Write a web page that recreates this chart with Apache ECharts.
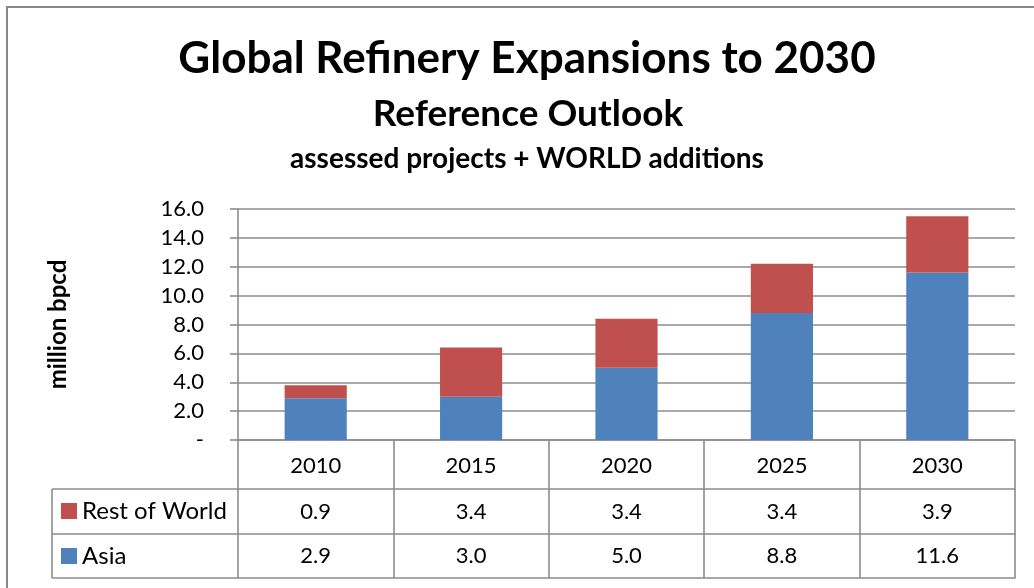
<!DOCTYPE html>
<html>
<head>
<meta charset="utf-8">
<script src="https://cdn.jsdelivr.net/npm/echarts@6/dist/echarts.min.js"></script>
<style>
  html, body { margin: 0; padding: 0; background: #fff; }
  #chart { width: 1034px; height: 588px; }
</style>
</head>
<body>
<div id="chart"></div>
<script>
// values
const years = ['2010', '2015', '2020', '2025', '2030'];
const asia = [2.9, 3.0, 5.0, 8.8, 11.6];
const restOfWorld = [0.9, 3.4, 3.4, 3.4, 3.9];
const seriesNames = ['Rest of World', 'Asia'];

const FONT = 'Lato';
const GRAY = '#8c8c8c';
const BLUE = '#4f81bd';
const RED = '#c0504d';

// layout of the plot area / data table
const gridLeft = 238, gridTop = 209, gridBottomY = 440, gridRightX = 1015;
const rowH = [49, 45, 44];         // header row, rest row, asia row
const tableLeft = 52;

const chart = echarts.init(document.getElementById('chart'));

const fmt = v => v.toFixed(1);

const tableAxis = (offset, values, margin) => ({
  type: 'category',
  data: years,
  position: 'bottom',
  offset: offset,
  boundaryGap: true,
  axisLine: { show: true, lineStyle: { color: GRAY, width: 1.6 } },
  axisTick: { show: false },
  splitLine: { show: false },
  axisLabel: values ? {
    show: true,
    interval: 0,
    margin: margin,
    color: '#000',
    fontFamily: FONT,
    fontSize: 22,
    formatter: (v, i) => fmt(values[i])
  } : { show: false }
});

const off1 = rowH[0], off2 = rowH[0] + rowH[1], off3 = rowH[0] + rowH[1] + rowH[2];
const lineY = [gridBottomY + off1, gridBottomY + off2, gridBottomY + off3];

const option = {
  animation: false,
  backgroundColor: '#fff',
  textStyle: { fontFamily: FONT },
  grid: {
    left: gridLeft,
    top: gridTop,
    right: 1034 - gridRightX,
    bottom: 588 - gridBottomY,
    containLabel: false
  },
  legend: {
    data: seriesNames,
    orient: 'vertical',
    left: 61,
    top: 499,
    padding: 0,
    itemGap: 21,
    itemWidth: 16,
    itemHeight: 16,
    icon: 'rect',
    selectedMode: false,
    textStyle: { color: '#000', fontFamily: FONT, fontSize: 24 }
  },
  xAxis: [
    {
      type: 'category',
      data: years,
      position: 'bottom',
      boundaryGap: true,
      axisLine: { show: true, lineStyle: { color: GRAY, width: 1.6 } },
      axisTick: { show: true, length: off3, lineStyle: { color: GRAY, width: 1.6 } },
      axisLabel: { interval: 0, margin: 15, color: '#000', fontFamily: FONT, fontSize: 22 }
    },
    tableAxis(off1, restOfWorld, 12),
    tableAxis(off2, asia, 11),
    tableAxis(off3, null, 0)
  ],
  yAxis: {
    type: 'value',
    min: 0,
    max: 16,
    interval: 2,
    name: 'million bpcd',
    nameLocation: 'middle',
    nameRotate: 90,
    nameGap: 168,
    nameTextStyle: { color: '#000', fontFamily: FONT, fontSize: 24, fontWeight: 'bold' },
    axisLine: { show: true, lineStyle: { color: GRAY, width: 1.6 } },
    axisTick: { show: true, length: 8, lineStyle: { color: GRAY, width: 1.6 } },
    splitLine: { show: true, lineStyle: { color: GRAY, width: 1.6 } },
    axisLabel: {
      margin: 34,
      color: '#000',
      fontFamily: FONT,
      fontSize: 22,
      formatter: v => (v === 0 ? '-' : fmt(v))
    }
  },
  series: [
    {
      name: 'Asia',
      type: 'bar',
      stack: 'total',
      barWidth: '40%',
      data: asia,
      itemStyle: { color: BLUE }
    },
    {
      name: 'Rest of World',
      type: 'bar',
      stack: 'total',
      barWidth: '40%',
      data: restOfWorld,
      itemStyle: { color: RED }
    }
  ],
  graphic: [
    // outer chart border
    { type: 'rect', shape: { x: 7, y: 7, width: 1100, height: 700 },
      style: { fill: 'none', stroke: '#888', lineWidth: 2 }, silent: true },
    // titles
    { type: 'text', x: 527, y: 59, style: { text: 'Global Refinery Expansions to 2030',
      font: 'bold 44px ' + FONT, fill: '#000', textAlign: 'center', textVerticalAlign: 'middle' } },
    { type: 'text', x: 528, y: 114, style: { text: 'Reference Outlook',
      font: 'bold 37px ' + FONT, fill: '#000', textAlign: 'center', textVerticalAlign: 'middle' } },
    { type: 'text', x: 527, y: 159, style: { text: 'assessed projects + WORLD additions',
      font: 'bold 28px ' + FONT, fill: '#000', textAlign: 'center', textVerticalAlign: 'middle' } },
    // left part of the data table (series key column)
    ...lineY.map(y => ({ type: 'line', silent: true,
      shape: { x1: tableLeft, y1: y, x2: gridLeft, y2: y },
      style: { stroke: GRAY, lineWidth: 1.6 } })),
    { type: 'line', silent: true,
      shape: { x1: tableLeft, y1: lineY[0], x2: tableLeft, y2: lineY[2] },
      style: { stroke: GRAY, lineWidth: 1.6 } }
  ]
};

chart.setOption(option);
</script>
</body>
</html>
